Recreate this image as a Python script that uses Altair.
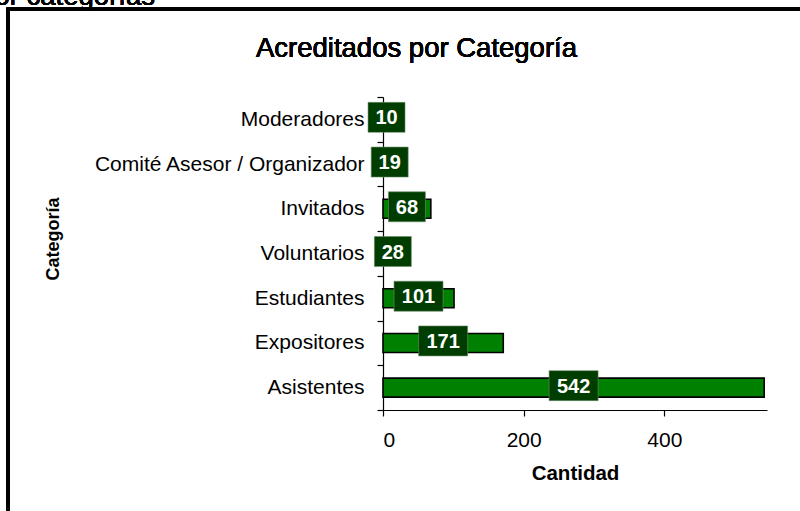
import altair as alt
import pandas as pd

categories = ["Moderadores", "Comité Asesor / Organizador", "Invitados",
              "Voluntarios", "Estudiantes", "Expositores", "Asistentes"]
values = [10, 19, 68, 28, 101, 171, 542]
x_ticks = [0, 200, 400]

df = pd.DataFrame({"Categoría": categories, "Cantidad": values})

FONT = "Liberation Sans"
BAR_GREEN = "#008000"
BOX_GREEN = "#003d00"
BOX2 = "M-18.5,-15H18.5V15H-18.5Z"
BOX3 = "M-24.5,-15H24.5V15H-24.5Z"

y_enc = alt.Y(
    "Categoría:N", sort=categories,
    scale=alt.Scale(paddingInner=0, paddingOuter=0),
    axis=alt.Axis(title="Categoría", titleFont=FONT, titleFontSize=18,
                  titleFontWeight="bold", titleColor="black",
                  titleAngle=270, titleX=-325, titleY=141.5,
                  titleAlign="center", titleBaseline="alphabetic",
                  labelFont=FONT, labelFontSize=21, labelColor="black",
                  labelPadding=13, labelLimit=400, tickBand="extent",
                  tickSize=6, tickColor="black", domainColor="black",
                  domainWidth=1.2, tickWidth=1.2, grid=False),
)

x_scale = alt.Scale(domain=[0, 546], nice=False, zero=True)

bars = alt.Chart(df).mark_bar(size=19, color=BAR_GREEN, stroke="black",
                              strokeWidth=1.6).encode(
    x=alt.X("Cantidad:Q", scale=x_scale,
            axis=alt.Axis(values=x_ticks, title="Cantidad", titleFont=FONT,
                          titleFontSize=20.5, titleFontWeight="bold",
                          titleColor="black", titlePadding=13,
                          labelFont=FONT, labelFontSize=21, labelColor="black",
                          labelPadding=13, tickSize=6, tickColor="black",
                          domainColor="black", domainWidth=1.2, tickWidth=1.2,
                          grid=False)),
    y=y_enc,
)

base_lab = alt.Chart(df).transform_calculate(mid="datum.Cantidad / 2")

boxes = base_lab.mark_point(filled=True, opacity=1, size=4, color=BOX_GREEN,
                            stroke="#6f8f6f", strokeWidth=0.6, yOffset=-2).encode(
    x=alt.X("mid:Q", scale=x_scale),
    y=alt.Y("Categoría:N", sort=categories),
    shape=alt.condition("datum.Cantidad >= 100", alt.value(BOX3), alt.value(BOX2)),
)

texts = base_lab.mark_text(color="white", font=FONT, fontSize=20,
                           fontWeight="bold", align="center",
                           baseline="middle", yOffset=-1).encode(
    x=alt.X("mid:Q", scale=x_scale),
    y=alt.Y("Categoría:N", sort=categories),
    text=alt.Text("Cantidad:Q"),
)

title = alt.Chart(df).mark_text(text="Acreditados por Categoría", font=FONT,
                                fontSize=27.5, color="black", align="center",
                                baseline="alphabetic").encode(
    x=alt.value(33.5), y=alt.value(-40))

cut_text = alt.Chart(df).mark_text(text="Acreditados por categorías", font=FONT,
                                   fontSize=27.5, color="black", align="right",
                                   baseline="alphabetic").encode(
    x=alt.value(-228), y=alt.value(-92))

frame_top = alt.Chart(df).mark_rule(color="black", strokeWidth=3).encode(
    x=alt.value(-375), x2=alt.value(500), y=alt.value(-88))
frame_left = alt.Chart(df).mark_rule(color="black", strokeWidth=3).encode(
    x=alt.value(-375), y=alt.value(-89.5), y2=alt.value(500))

chart = alt.layer(frame_top, frame_left, cut_text, title, bars, boxes, texts).properties(
    width=384, height=313,
    autosize=alt.AutoSizeParams(type="none"),
    padding={"left": 383, "top": 97, "right": 33, "bottom": 101},
    background="white",
).configure_view(stroke=None)

chart.save("out.html", embed_options={"renderer": "svg", "actions": False})
